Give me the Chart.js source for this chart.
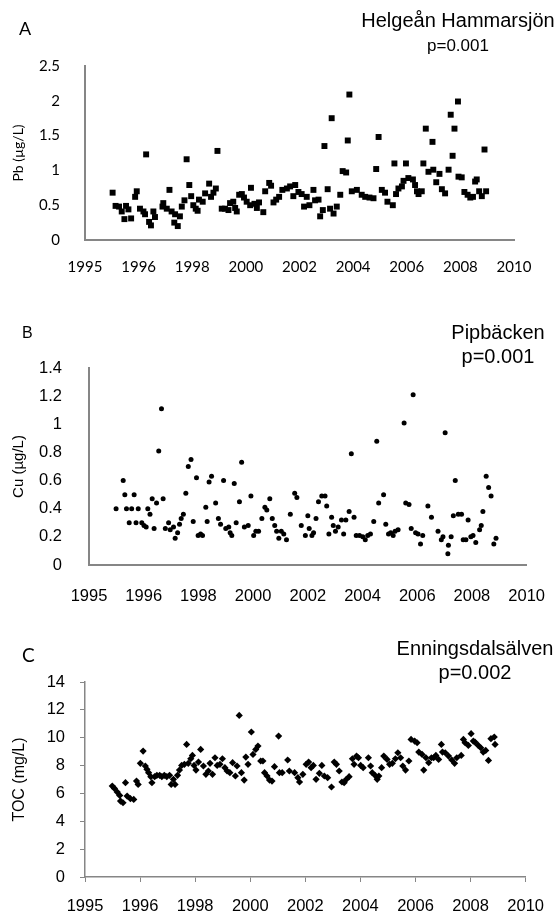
<!DOCTYPE html>
<html>
<head>
<meta charset="utf-8">
<script src="https://cdn.jsdelivr.net/npm/chart.js@4.4.0/dist/chart.umd.min.js"></script>
<style>
  body { margin: 0; width: 559px; height: 916px; position: relative; background: #fff; overflow: hidden; }
  canvas { position: absolute; left: 0; }
  .letter { position: absolute; color: #000; }
  .title { position: absolute; width: 300px; text-align: center; font-family: "Liberation Sans", Arial, sans-serif;
           font-size: 20px; line-height: 24px; color: #000; white-space: nowrap; }
</style>
</head>
<body>
<canvas id="pb" width="559" height="300" style="top:0px"></canvas>
<canvas id="cu" width="559" height="312" style="top:300px"></canvas>
<canvas id="toc" width="559" height="304" style="top:612px"></canvas>

<div class="letter" style="left:19px;top:19px;font:18px/18px Lato">A</div>
<div class="title" style="left:308px;top:8px">Helgeån Hammarsjön<br><span style="font-size:17px">p=0.001</span></div>

<div class="letter" style="left:22px;top:325px;font:16px/16px 'Liberation Sans'">B</div>
<div class="title" style="left:348px;top:320px">Pipbäcken<br>p=0.001</div>

<div class="letter" style="left:22px;top:645px;font:19px/19px Lato">C</div>
<div class="title" style="left:325px;top:636px">Enningsdalsälven<br>p=0.002</div>

<script>
// x axis: ticks every 2 years from 1994, labelled as in the original figure
const xTickLabels = ['1995', '1996', '1998', '2000', '2002', '2004', '2006', '2008', '2010'];

// A - Pb, Helgeån Hammarsjön
const pbTicks = ['0', '0.5', '1', '1.5', '2', '2.5'];
const pbYears = [1995.03, 1995.14, 1995.27, 1995.37, 1995.47, 1995.53, 1995.62, 1995.72, 1995.87, 1995.93,
  1996.05, 1996.18, 1996.24, 1996.28, 1996.39, 1996.46, 1996.55, 1996.61, 1996.89, 1996.92,
  1997.05, 1997.15, 1997.23, 1997.33, 1997.36, 1997.46, 1997.54, 1997.61, 1997.71, 1997.79,
  1997.89, 1997.96, 1998.04, 1998.13, 1998.20, 1998.25, 1998.39, 1998.48, 1998.63, 1998.70,
  1998.79, 1998.88, 1998.94, 1999.10, 1999.22, 1999.35, 1999.41, 1999.53, 1999.60, 1999.66,
  1999.75, 1999.85, 1999.93, 2000.03, 2000.16, 2000.19, 2000.32, 2000.41, 2000.49, 2000.65,
  2000.72, 2000.87, 2000.94, 2001.03, 2001.13, 2001.24, 2001.36, 2001.53, 2001.65, 2001.77,
  2001.84, 2001.96, 2002.08, 2002.17, 2002.27, 2002.37, 2002.52, 2002.58, 2002.71, 2002.77,
  2002.87, 2002.93, 2003.05, 2003.14, 2003.20, 2003.27, 2003.39, 2003.52, 2003.61, 2003.74,
  2003.80, 2003.86, 2003.95, 2004.14, 2004.32, 2004.45, 2004.61, 2004.76, 2004.86, 2004.95,
  2005.07, 2005.19, 2005.28, 2005.48, 2005.54, 2005.60, 2005.69, 2005.82, 2005.88, 2005.97,
  2006.06, 2006.23, 2006.31, 2006.38, 2006.44, 2006.56, 2006.62, 2006.71, 2006.81, 2006.96,
  2006.99, 2007.10, 2007.22, 2007.31, 2007.43, 2007.56, 2007.64, 2007.71, 2007.78, 2007.91,
  2007.93, 2008.05, 2008.15, 2008.27, 2008.37, 2008.47, 2008.55, 2008.61, 2008.70, 2008.80,
  2008.90, 2008.96];
const pbValues = [0.68, 0.49, 0.48, 0.41, 0.30, 0.49, 0.44, 0.31, 0.62, 0.70,
  0.45, 0.41, 0.37, 1.23, 0.26, 0.21, 0.41, 0.33, 0.48, 0.53,
  0.45, 0.72, 0.41, 0.25, 0.37, 0.20, 0.34, 0.48, 0.57, 1.16,
  0.79, 0.63, 0.50, 0.45, 0.42, 0.58, 0.55, 0.67, 0.81, 0.62,
  0.68, 0.74, 1.28, 0.45, 0.45, 0.43, 0.53, 0.55, 0.46, 0.41,
  0.65, 0.66, 0.61, 0.55, 0.50, 0.75, 0.52, 0.46, 0.54, 0.40,
  0.70, 0.82, 0.78, 0.54, 0.58, 0.62, 0.72, 0.74, 0.77, 0.63,
  0.79, 0.69, 0.66, 0.48, 0.62, 0.50, 0.72, 0.57, 0.58, 0.34,
  0.43, 1.35, 0.73, 0.45, 1.75, 0.38, 0.48, 0.65, 0.99, 0.97,
  1.43, 2.09, 0.70, 0.72, 0.65, 0.62, 0.61, 0.60, 1.02, 1.48,
  0.72, 0.68, 0.55, 0.50, 1.10, 0.66, 0.74, 0.77, 0.85, 1.10,
  0.89, 0.87, 0.79, 0.70, 0.66, 0.70, 1.10, 1.60, 0.98, 1.41,
  1.01, 0.83, 0.95, 0.73, 0.67, 1.01, 1.80, 1.21, 1.60, 1.99,
  0.91, 0.90, 0.69, 0.65, 0.61, 0.62, 0.84, 0.87, 0.70, 0.63,
  1.30, 0.70];

// B - Cu, Pipbäcken
const cuTicks = ['0', '0.2', '0.4', '0.6', '0.8', '1', '1.2', '1.4'];
const cuYears = [1994.99, 1995.25, 1995.31, 1995.37, 1995.47, 1995.56, 1995.65, 1995.72, 1995.80, 1995.93,
  1996.01, 1996.09, 1996.15, 1996.23, 1996.31, 1996.38, 1996.47, 1996.55, 1996.65, 1996.71,
  1996.79, 1996.91, 1996.97, 1997.09, 1997.15, 1997.24, 1997.31, 1997.37, 1997.45, 1997.54,
  1997.63, 1997.73, 1997.81, 1997.93, 1997.99, 1998.08, 1998.15, 1998.27, 1998.32, 1998.39,
  1998.48, 1998.63, 1998.73, 1998.81, 1998.92, 1999.00, 1999.11, 1999.16, 1999.22, 1999.31,
  1999.38, 1999.50, 1999.58, 1999.68, 1999.82, 1999.92, 2000.02, 2000.10, 2000.20, 2000.32,
  2000.43, 2000.50, 2000.61, 2000.70, 2000.79, 2000.86, 2000.94, 2001.03, 2001.12, 2001.22,
  2001.36, 2001.52, 2001.60, 2001.76, 2001.91, 2002.00, 2002.05, 2002.15, 2002.21, 2002.30,
  2002.39, 2002.51, 2002.63, 2002.69, 2002.77, 2002.87, 2002.93, 2003.01, 2003.11, 2003.23,
  2003.31, 2003.39, 2003.51, 2003.59, 2003.69, 2003.77, 2003.89, 2004.01, 2004.10, 2004.19,
  2004.29, 2004.41, 2004.52, 2004.59, 2004.77, 2004.85, 2004.95, 2005.03, 2005.12, 2005.19,
  2005.30, 2005.52, 2005.58, 2005.70, 2005.78, 2005.85, 2005.94, 2006.03, 2006.12, 2006.20,
  2006.39, 2006.52, 2006.76, 2006.88, 2006.94, 2007.02, 2007.12, 2007.14, 2007.24, 2007.32,
  2007.39, 2007.50, 2007.62, 2007.68, 2007.78, 2007.86, 2007.96, 2008.04, 2008.14, 2008.28,
  2008.34, 2008.40, 2008.52, 2008.61, 2008.70, 2008.80, 2008.88];
const cuValues = [0.40, 0.60, 0.50, 0.40, 0.30, 0.40, 0.50, 0.30, 0.40, 0.30,
  0.28, 0.27, 0.40, 0.36, 0.47, 0.26, 0.44, 0.81, 1.11, 0.47,
  0.26, 0.30, 0.25, 0.27, 0.19, 0.23, 0.29, 0.33, 0.36, 0.51,
  0.70, 0.75, 0.31, 0.62, 0.21, 0.22, 0.21, 0.41, 0.31, 0.59,
  0.63, 0.44, 0.33, 0.29, 0.60, 0.26, 0.27, 0.23, 0.21, 0.58,
  0.30, 0.45, 0.73, 0.27, 0.28, 0.49, 0.21, 0.24, 0.24, 0.33,
  0.41, 0.39, 0.47, 0.33, 0.28, 0.24, 0.19, 0.24, 0.22, 0.18,
  0.36, 0.51, 0.48, 0.28, 0.21, 0.35, 0.26, 0.21, 0.23, 0.33,
  0.45, 0.49, 0.49, 0.42, 0.22, 0.34, 0.28, 0.24, 0.27, 0.32,
  0.22, 0.32, 0.38, 0.79, 0.34, 0.21, 0.21, 0.20, 0.18, 0.21,
  0.22, 0.31, 0.88, 0.44, 0.50, 0.29, 0.22, 0.23, 0.21, 0.24,
  0.25, 1.01, 0.44, 0.43, 0.26, 1.21, 0.23, 0.22, 0.15, 0.21,
  0.42, 0.34, 0.24, 0.18, 0.20, 0.94, 0.08, 0.14, 0.20, 0.35,
  0.60, 0.36, 0.36, 0.18, 0.18, 0.32, 0.20, 0.21, 0.16, 0.25,
  0.28, 0.38, 0.63, 0.55, 0.49, 0.15, 0.19];

// C - TOC, Enningsdalsälven
const tocTicks = ['0', '2', '4', '6', '8', '10', '12', '14'];
const tocYears = [1994.99, 1995.07, 1995.17, 1995.26, 1995.29, 1995.38, 1995.47, 1995.53, 1995.65, 1995.77,
  1995.87, 1995.93, 1996.01, 1996.11, 1996.19, 1996.25, 1996.31, 1996.39, 1996.43, 1996.53,
  1996.61, 1996.71, 1996.79, 1996.88, 1996.97, 1997.07, 1997.13, 1997.21, 1997.27, 1997.36,
  1997.43, 1997.51, 1997.61, 1997.69, 1997.75, 1997.84, 1997.90, 1997.96, 1998.03, 1998.12,
  1998.20, 1998.30, 1998.39, 1998.48, 1998.54, 1998.63, 1998.72, 1998.80, 1998.90, 1998.99,
  1999.08, 1999.16, 1999.26, 1999.36, 1999.46, 1999.52, 1999.60, 1999.68, 1999.78, 1999.84,
  1999.92, 2000.04, 2000.10, 2000.20, 2000.28, 2000.38, 2000.46, 2000.52, 2000.61, 2000.70,
  2000.79, 2000.88, 2001.03, 2001.06, 2001.16, 2001.36, 2001.42, 2001.61, 2001.73, 2001.79,
  2001.91, 2002.03, 2002.12, 2002.21, 2002.29, 2002.39, 2002.51, 2002.60, 2002.69, 2002.81,
  2002.95, 2003.05, 2003.13, 2003.23, 2003.33, 2003.41, 2003.49, 2003.59, 2003.71, 2003.77,
  2003.86, 2003.93, 2004.01, 2004.10, 2004.29, 2004.37, 2004.43, 2004.53, 2004.61, 2004.67,
  2004.77, 2004.85, 2004.97, 2005.06, 2005.16, 2005.27, 2005.36, 2005.46, 2005.54, 2005.64,
  2005.76, 2005.84, 2005.97, 2006.06, 2006.12, 2006.24, 2006.30, 2006.38, 2006.48, 2006.58,
  2006.66, 2006.74, 2006.84, 2006.94, 2006.98, 2007.08, 2007.20, 2007.32, 2007.42, 2007.50,
  2007.66, 2007.74, 2007.80, 2007.92, 2008.02, 2008.10, 2008.16, 2008.28, 2008.37, 2008.46,
  2008.55, 2008.65, 2008.74, 2008.86, 2008.89];
const tocValues = [6.53, 6.36, 6.10, 5.86, 5.45, 5.33, 6.77, 5.81, 5.62, 5.57,
  6.89, 6.65, 8.16, 9.04, 7.97, 7.73, 7.49, 7.20, 6.77, 7.20,
  7.30, 7.30, 7.20, 7.30, 7.20, 7.30, 6.65, 7.01, 6.65, 7.30,
  7.68, 8.01, 8.09, 9.52, 8.16, 8.49, 8.73, 8.01, 7.68, 8.25,
  9.16, 7.97, 7.37, 7.61, 8.16, 7.37, 8.56, 8.01, 8.09, 8.49,
  7.85, 7.61, 7.49, 8.21, 7.25, 7.97, 11.60, 7.49, 6.96, 8.61,
  8.09, 10.41, 8.80, 9.16, 9.40, 8.33, 8.33, 7.49, 7.25, 6.96,
  6.89, 7.92, 10.12, 7.49, 7.49, 8.40, 7.61, 7.49, 7.13, 6.82,
  7.37, 8.09, 8.25, 7.85, 8.01, 7.01, 7.44, 8.01, 7.25, 7.13,
  6.46, 8.25, 8.09, 7.61, 6.82, 6.77, 7.01, 7.20, 8.49, 8.09,
  8.68, 8.56, 8.01, 7.85, 8.56, 7.97, 7.49, 7.30, 7.01, 7.25,
  7.85, 8.68, 8.44, 8.09, 8.16, 8.49, 8.92, 8.56, 7.97, 7.68,
  8.33, 9.88, 9.76, 9.64, 8.97, 8.80, 7.68, 8.56, 8.21, 8.56,
  8.56, 8.73, 8.44, 9.52, 8.97, 8.92, 8.68, 8.40, 8.16, 8.56,
  8.73, 9.88, 9.64, 9.45, 10.29, 9.76, 9.69, 9.45, 9.28, 8.97,
  9.09, 8.37, 9.93, 10.05, 9.52];

const axisGray = '#868686';

function scatterPanel(id, years, values, p) {
  const points = years.map((x, i) => ({ x, y: values[i] }));
  const tickFont = { family: p.fontFamily, size: p.tickSize };
  const gridOpts = p.tickMarks
    ? { display: true, drawOnChartArea: false, drawTicks: true, tickLength: 5, color: axisGray, lineWidth: 1 }
    : { display: false };
  return new Chart(document.getElementById(id), {
    type: 'scatter',
    data: {
      datasets: [{
        data: points,
        pointStyle: p.pointStyle,
        pointRadius: p.radius,
        backgroundColor: '#000',
        borderColor: '#000',
        borderWidth: 0
      }]
    },
    options: {
      responsive: false,
      animation: false,
      events: [],
      layout: { padding: p.padding },
      plugins: { legend: { display: false }, tooltip: { enabled: false } },
      scales: {
        x: {
          type: 'linear', min: 1994, max: 2010,
          ticks: { stepSize: 2, autoSkip: false, maxRotation: 0, color: '#000', font: tickFont,
                   padding: p.xPad, callback: (v, i) => xTickLabels[i] },
          grid: gridOpts,
          border: { display: true, color: axisGray, width: p.axisWidth },
          afterFit: s => { s.height = p.xHeight; }
        },
        y: {
          min: 0, max: p.yMax,
          ticks: { stepSize: p.yStep, color: '#000', font: tickFont, padding: p.yPad,
                   callback: (v, i) => p.yTicks[i] },
          grid: gridOpts,
          border: { display: true, color: axisGray, width: p.axisWidth },
          title: { display: true, text: p.yTitle, color: '#000',
                   font: { family: p.fontFamily, size: p.titleSize }, padding: { top: p.titlePad, bottom: 0 } },
          afterFit: s => { s.width = p.yWidth; }
        }
      }
    }
  });
}

scatterPanel('pb', pbYears, pbValues, {
  pointStyle: 'rect', radius: 4.2, fontFamily: 'Lato', tickSize: 15, titleSize: 14, titlePad: 10,
  yTitle: 'Pb (µg/L)', yTicks: pbTicks, yMax: 2.5, yStep: 0.5, tickMarks: false, axisWidth: 2,
  padding: { top: 66, right: 45, bottom: 10, left: 0 }, xHeight: 50, yWidth: 85, xPad: 10, yPad: 17
});

scatterPanel('cu', cuYears, cuValues, {
  pointStyle: 'circle', radius: 2.5, fontFamily: 'Liberation Sans', tickSize: 16.5, titleSize: 15, titlePad: 10,
  yTitle: 'Cu (µg/L)', yTicks: cuTicks, yMax: 1.4, yStep: 0.2, tickMarks: false, axisWidth: 2,
  padding: { top: 68, right: 27, bottom: 7, left: 0 }, xHeight: 40, yWidth: 89, xPad: 14, yPad: 19
});

scatterPanel('toc', tocYears, tocValues, {
  pointStyle: 'rectRot', radius: 3.6, fontFamily: 'Liberation Sans', tickSize: 16.5, titleSize: 16, titlePad: 10,
  yTitle: 'TOC (mg/L)', yTicks: tocTicks, yMax: 14, yStep: 2, tickMarks: true, axisWidth: 1.5,
  padding: { top: 70, right: 31, bottom: 3, left: 0 }, xHeight: 36, yWidth: 85, xPad: 15, yPad: 15
});
</script>
</body>
</html>
